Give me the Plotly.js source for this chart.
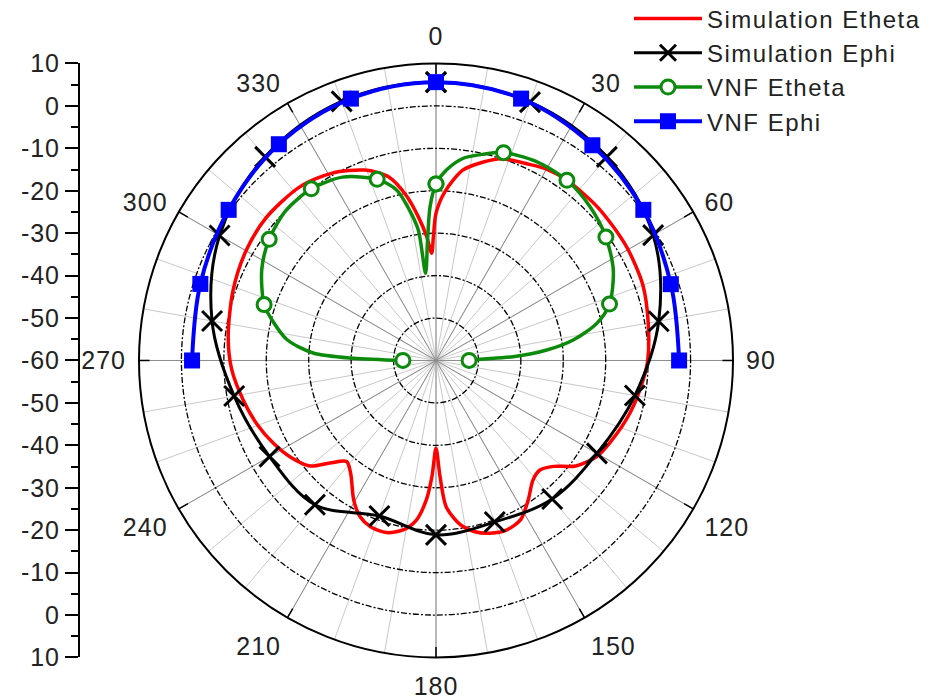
<!DOCTYPE html>
<html><head><meta charset="utf-8">
<script src="https://cdn.plot.ly/plotly-3.0.1.min.js"></script>
<style>
html,body{margin:0;padding:0;background:#fff;}
#chart{width:943px;height:699px;}
svg text{letter-spacing:1px;}
svg text.legendtext{letter-spacing:1.5px;}
</style>
</head><body><div id="chart"></div>
<script>
// ---- data (dB versus angle in degrees) ----
const seriesNames = ['Simulation Etheta', 'Simulation Ephi', 'VNF Etheta', 'VNF Ephi'];

const simEthetaTheta = [0, 3, 8, 13, 18, 25, 30, 36, 47, 59, 70, 80, 90, 95, 105, 115, 121, 127, 132, 136.5, 141, 146.5, 152, 157.5, 162.5, 167.5, 171.5, 176, 178, 180, 182, 184, 187, 191, 196, 201.5, 206, 210.5, 217, 221.5, 226, 230, 236.5, 243, 250.5, 258.5, 267.5, 276.5, 289, 300, 310, 322, 331, 339.5, 345.5, 350, 353, 355.7, 357.7, 358.8, 360];
const simEthetaDb = [-25.3, -20.2, -14.7, -12.1, -10.0, -8.9, -7.9, -7.5, -7.5, -7.7, -8.1, -9.2, -10.1, -10.9, -12.6, -14.6, -15.9, -18.7, -22.7, -24.4, -23.7, -20.6, -17.5, -16.7, -17.3, -18.7, -20.8, -25.4, -32.6, -39.3, -32.6, -27.0, -22.1, -19.3, -17.8, -17.9, -19.1, -21.8, -26.6, -28.2, -25.2, -21.3, -18.8, -17.0, -15.2, -13.6, -11.8, -10.7, -9.4, -8.3, -7.7, -8.0, -9.5, -12.1, -15.3, -20.8, -25.9, -30.7, -34.7, -30.8, -25.3];

const simEphiTheta = [0, 20, 40, 60, 80, 100, 120, 140, 160, 180, 200, 220, 240, 260, 280, 300, 320, 340, 360];
const simEphiDb = [5.6, 4.8, 2.65, -0.9, -6.7, -12.4, -16.2, -17.4, -19.5, -18.9, -21.0, -15.6, -14.7, -11.7, -6.4, -1.1, 2.65, 5.0, 5.6];

const vnfEthetaTheta = [270, 271.5, 273.5, 278, 284, 288, 297.5, 306, 315, 324, 333, 342, 347, 350, 352.3, 353.2, 356, 357.8, 0, 3.2, 7.7, 13, 18, 26.5, 36, 45, 54, 63, 72, 77, 81.5, 84.6, 87.2, 88.4, 90];
const vnfEthetaDb = [-52.2, -40.5, -31.0, -24.5, -20.1, -17.4, -13.7, -11.4, -10.0, -10.0, -11.5, -15.1, -18.75, -24.0, -29.0, -39.3, -31.5, -23.7, -18.4, -15.0, -11.9, -10.1, -8.5, -7.5, -7.5, -8.7, -10.5, -13.1, -17.0, -21.1, -27.3, -33.8, -41.8, -49.6, -52.2];
const vnfMarkerTheta = [270, 288, 306, 324, 342, 0, 18, 36, 54, 72, 90];

const vnfEphiTheta = [270, 288, 306, 324, 342, 0, 18, 36, 54, 72, 90];
const vnfEphiDb = [-2.5, -1.6, 0.4, 3.0, 4.9, 5.6, 4.9, 2.7, 0.4, -1.8, -2.7];

const angularTickVals = [0, 30, 60, 90, 120, 150, 180, 210, 240, 270, 300, 330];
const angularTickText = ['0', '30', '60', '90', '120', '150', '180', '210', '240', '270', '300', '330'];
const radialGridVals = [-50, -40, -30, -20, -10, 0];
const leftAxisVals = [-70, -60, -50, -40, -30, -20, -10, 0, 10, 20, 30, 40, 50, 60, 70];
const leftAxisText = ['10', '0', '-10', '-20', '-30', '-40', '-50', '-60', '-50', '-40', '-30', '-20', '-10', '0', '10'];

// ---- build ----
const FONT = 'Arial, "Liberation Sans", sans-serif';
const vnfMarkerDb = vnfMarkerTheta.map(t => vnfEthetaDb[vnfEthetaTheta.indexOf(t)]);
const GREEN = '#0b8a0b';
const greenMarker = {symbol: 'circle', size: 14, color: '#ffffff', line: {color: GREEN, width: 3}};

const traces = [
  {type: 'scatterpolar', subplot: 'polar', r: [], theta: [], showlegend: false, hoverinfo: 'skip'},
  {type: 'scatterpolar', subplot: 'polar3', r: [], theta: [], showlegend: false, hoverinfo: 'skip'},
  {type: 'scatter', x: [], y: [], xaxis: 'x', yaxis: 'y', showlegend: false, hoverinfo: 'skip'},
  {type: 'scatterpolar', subplot: 'polar2', name: seriesNames[0], r: simEthetaDb, theta: simEthetaTheta,
   mode: 'lines', line: {color: '#ff0000', width: 3.5, shape: 'spline', smoothing: 0.8}},
  {type: 'scatterpolar', subplot: 'polar2', name: seriesNames[1], r: simEphiDb, theta: simEphiTheta,
   mode: 'lines+markers', line: {color: '#000000', width: 3, shape: 'spline'},
   marker: {symbol: 'x-thin', size: 20, color: '#000', line: {color: '#000', width: 3}}},
  {type: 'scatterpolar', subplot: 'polar2', name: seriesNames[2], r: vnfEthetaDb, theta: vnfEthetaTheta,
   mode: 'lines', line: {color: GREEN, width: 3.5, shape: 'spline', smoothing: 0.8}, showlegend: false},
  {type: 'scatterpolar', subplot: 'polar2', name: seriesNames[2], r: vnfMarkerDb, theta: vnfMarkerTheta,
   mode: 'markers', marker: greenMarker, showlegend: false},
  // legend entry for VNF Etheta (one point drawn exactly over an existing marker)
  {type: 'scatterpolar', subplot: 'polar2', name: seriesNames[2], r: [vnfMarkerDb[5]], theta: [vnfMarkerTheta[5]],
   mode: 'lines+markers', line: {color: GREEN, width: 3.5}, marker: greenMarker},
  {type: 'scatterpolar', subplot: 'polar2', name: seriesNames[3], r: vnfEphiDb, theta: vnfEphiTheta,
   mode: 'lines+markers', line: {color: '#0000ff', width: 4, shape: 'spline'},
   marker: {symbol: 'square', size: 16, color: '#0000ff'}}
];

const dom = {x: [0.1474, 0.7773], y: [0.0594, 0.9092]};
const hiddenRadial = {range: [-60, 10], showgrid: false, showticklabels: false, showline: false, ticks: ''};
const layout = {
  width: 943, height: 699,
  margin: {l: 0, r: 0, t: 0, b: 0, autoexpand: false},
  paper_bgcolor: '#ffffff', plot_bgcolor: 'rgba(0,0,0,0)',
  font: {family: FONT, size: 25, color: '#222'},
  showlegend: true,
  polar: {
    domain: dom, bgcolor: '#ffffff',
    radialaxis: hiddenRadial,
    angularaxis: {rotation: 90, direction: 'clockwise', tickmode: 'linear', dtick: 10, showticklabels: false,
      ticks: '', showline: false, gridcolor: '#c8c8c8', gridwidth: 1}
  },
  polar2: {
    domain: dom, bgcolor: 'rgba(0,0,0,0)',
    radialaxis: {range: [-60, 10], tickmode: 'array', tickvals: radialGridVals, showticklabels: false,
      showline: false, ticks: '', gridcolor: '#000000', gridwidth: 1.3, griddash: '6px,2px,2px,2px'},
    angularaxis: {rotation: 90, direction: 'clockwise', tickmode: 'array', tickvals: angularTickVals,
      ticktext: angularTickText, ticks: 'outside', ticklen: 7, tickwidth: 1, tickcolor: 'rgba(0,0,0,0)',
      showline: true, linecolor: '#000', linewidth: 2, gridcolor: '#8c8c8c', gridwidth: 1,
      tickfont: {family: FONT, size: 25, color: '#222'}}
  },
  polar3: {
    domain: dom, bgcolor: 'rgba(0,0,0,0)',
    radialaxis: hiddenRadial,
    angularaxis: {rotation: 90, direction: 'clockwise', tickmode: 'array', tickvals: angularTickVals,
      showticklabels: false, ticks: 'inside', ticklen: 10, tickwidth: 1.5, tickcolor: '#000',
      showline: false, showgrid: false}
  },
  xaxis: {domain: [0, 0.01], visible: false, range: [0, 1]},
  yaxis: {domain: dom.y, range: [-70, 70], anchor: 'free', position: 0.0838,
    tickmode: 'array', tickvals: leftAxisVals, ticktext: leftAxisText,
    ticks: 'outside', ticklen: 13, tickwidth: 2, tickcolor: '#000',
    showline: true, linecolor: '#000', linewidth: 2, showgrid: false, zeroline: false,
    tickfont: {family: FONT, size: 25, color: '#222'},
    minor: {tickmode: 'linear', tick0: 0, dtick: 5, ticks: 'outside', ticklen: 7, tickwidth: 2, tickcolor: '#000', showgrid: false}},
  legend: {x: 0.667, y: 1.005, xanchor: 'left', yanchor: 'top', bgcolor: 'rgba(0,0,0,0)',
    font: {family: FONT, size: 24, color: '#222'}, itemwidth: 68, tracegroupgap: 0}
};

Plotly.newPlot('chart', traces, layout, {displayModeBar: false, staticPlot: true});
</script></body></html>
